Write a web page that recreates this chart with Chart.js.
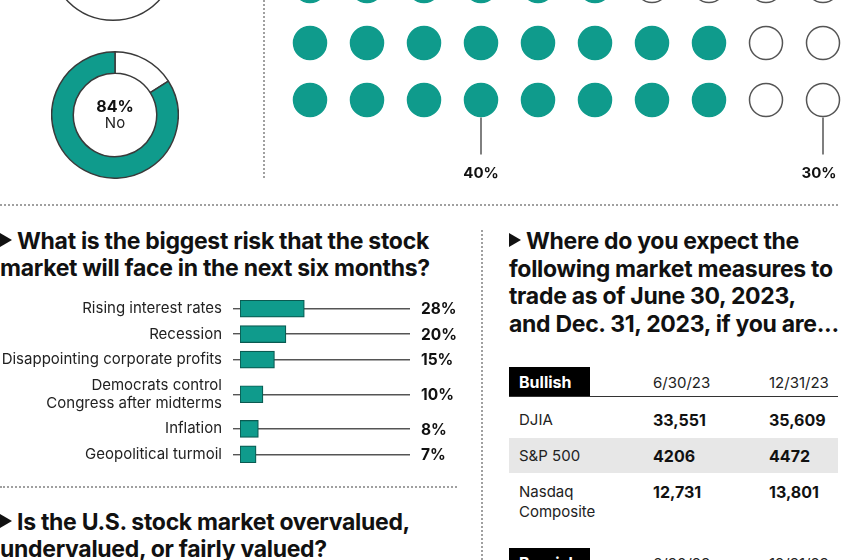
<!DOCTYPE html>
<html>
<head>
<meta charset="utf-8">
<script src="https://cdn.jsdelivr.net/npm/chart.js@4.4.0/dist/chart.umd.min.js"></script>
<style>
  html, body { margin: 0; padding: 0; }
  body { width: 850px; height: 560px; overflow: hidden; position: relative; background: #fff;
         font-family: Inter, "Noto Sans", sans-serif; color: #111; }
  .abs { position: absolute; }
  .vdots { border-left: 2px dotted #a0a0a0; width: 0; }
  .hdots { border-top: 2px dotted #a0a0a0; height: 0; }
  .title { font-weight: 700; font-size: 23px; line-height: 27px; letter-spacing: -0.3px; white-space: nowrap; }
  .tri { display: inline-block; width: 0; height: 0; border-top: 7px solid transparent; border-bottom: 7px solid transparent;
         border-left: 12px solid #111; margin-right: 5px; vertical-align: 2px; }
  .cell { position: absolute; white-space: nowrap; font-size: 15px; line-height: 20px; color: #222; }
  .num { font-weight: 700; font-size: 16px; color: #111; }
  .box { position: absolute; background: #000; color: #fff; font-weight: 700; font-size: 16px;
         line-height: 30px; height: 30px; width: 81px; box-sizing: border-box; padding-left: 10px; }
  canvas { position: absolute; }
</style>
</head>
<body>

<!-- top area -->
<canvas id="ringTop" width="128" height="128" style="left:49px;top:-107px"></canvas>
<canvas id="donut" width="128" height="128" style="left:51px;top:51px"></canvas>
<div class="abs" style="left:65px;top:96px;width:100px;text-align:center;font-weight:700;font-size:16px;line-height:20px;">84%</div>
<div class="abs" style="left:65px;top:113px;width:100px;text-align:center;font-size:15px;line-height:20px;color:#222;">No</div>
<div class="abs vdots" style="left:263px;top:0;height:178px"></div>
<canvas id="dots" width="580" height="240" style="left:270px;top:-50px"></canvas>

<div class="abs hdots" style="left:0;top:204px;width:838px"></div>

<!-- risk bars -->
<div class="abs title" style="left:0;top:228px">
  <span class="tri"></span>What is the biggest risk that the stock<br>market will face in the next six months?
</div>
<canvas id="risk" width="470" height="171" style="left:0;top:296px"></canvas>

<div class="abs hdots" style="left:0;top:486px;width:457px"></div>
<div class="abs title" style="left:0;top:509px">
  <span class="tri"></span>Is the U.S. stock market overvalued,<br>undervalued, or fairly valued?
</div>

<!-- right: table -->
<div class="abs vdots" style="left:481px;top:230px;height:330px"></div>
<div class="abs title" style="left:509px;top:228px;line-height:27.7px">
  <span class="tri"></span>Where do you expect the<br>following market measures to<br>trade as of June 30, 2023,<br>and Dec. 31, 2023, if you are...
</div>

<div class="box" style="left:509px;top:367px">Bullish</div>
<div class="cell" style="left:653px;top:373px">6/30/23</div>
<div class="cell" style="left:769px;top:373px">12/31/23</div>
<div class="abs" style="left:509px;top:396px;width:329px;height:0;border-top:1.5px solid #333"></div>

<div class="cell" style="left:519px;top:410px">DJIA</div>
<div class="cell num" style="left:653px;top:410px">33,551</div>
<div class="cell num" style="left:769px;top:410px">35,609</div>

<div class="abs" style="left:509px;top:438px;width:329px;height:35px;background:#e7e7e7"></div>
<div class="cell" style="left:519px;top:446px">S&amp;P 500</div>
<div class="cell num" style="left:653px;top:446px">4206</div>
<div class="cell num" style="left:769px;top:446px">4472</div>

<div class="cell" style="left:519px;top:482px">Nasdaq<br>Composite</div>
<div class="cell num" style="left:653px;top:482px">12,731</div>
<div class="cell num" style="left:769px;top:482px">13,801</div>

<div class="box" style="left:509px;top:548px">Bearish</div>
<div class="cell" style="left:653px;top:554px">6/30/23</div>
<div class="cell" style="left:769px;top:554px">12/31/23</div>

<script>
const TEAL = '#0f9b8c';
const EDGE = '#3a3a3a';

// donut: share of respondents
const donutLabels = ['Yes', 'No'];
const donutValues = [16, 84];
const donutColors = ['#ffffff', TEAL];

// ring above it, only its lower edge is in frame
const ringTopValues = [100];

// dot grid: filled dots per row, out of 10
const dotRowFilled = [6, 8, 8];
const dotsPerRow = 10;
const calloutCols = [4, 10];
const calloutLabels = ['40%', '30%'];

// biggest risk
const riskLabels = ['Rising interest rates', 'Recession', 'Disappointing corporate profits',
                    ['Democrats control', 'Congress after midterms'], 'Inflation', 'Geopolitical turmoil'];
const riskValues = [28, 20, 15, 10, 8, 7];

Chart.defaults.font.family = 'Inter, "Noto Sans", sans-serif';

const baseOpts = {
  responsive: false, animation: false, events: [],
  plugins: { legend: { display: false }, tooltip: { enabled: false } }
};

new Chart(document.getElementById('ringTop'), {
  type: 'doughnut',
  data: { datasets: [{ data: ringTopValues, backgroundColor: ['#ffffff'], borderColor: EDGE, borderWidth: 1.5 }] },
  options: { ...baseOpts, cutout: '66%' }
});

new Chart(document.getElementById('donut'), {
  type: 'doughnut',
  data: { labels: donutLabels, datasets: [{ data: donutValues, backgroundColor: donutColors, borderColor: EDGE, borderWidth: 1.5 }] },
  options: { ...baseOpts, cutout: '66%' }
});

// dot grid
const dotPoints = [], dotFill = [], dotLine = [];
dotRowFilled.forEach((n, r) => {
  for (let c = 1; c <= dotsPerRow; c++) {
    dotPoints.push({ x: c, y: r + 1 });
    dotFill.push(c <= n ? TEAL : '#ffffff');
    dotLine.push(c <= n ? TEAL : '#555');
  }
});
const DOT_R = 16.5;

const calloutPlugin = {
  id: 'callouts',
  afterDatasetsDraw(chart) {
    const { ctx, scales: { x, y } } = chart;
    const lastRow = dotRowFilled.length;
    ctx.save();
    calloutCols.forEach((col, i) => {
      const px = x.getPixelForValue(col);
      const top = y.getPixelForValue(lastRow) + DOT_R + 1;
      ctx.strokeStyle = '#555';
      ctx.lineWidth = 1.5;
      ctx.beginPath();
      ctx.moveTo(px, top);
      ctx.lineTo(px, top + 37);
      ctx.stroke();
      ctx.fillStyle = '#111';
      ctx.font = '700 15px Inter, "Noto Sans", sans-serif';
      ctx.textAlign = 'center';
      ctx.textBaseline = 'middle';
      ctx.fillText(calloutLabels[i], px - (i === calloutCols.length - 1 ? 4 : 0), top + 56);
    });
    ctx.restore();
  }
};

new Chart(document.getElementById('dots'), {
  type: 'scatter',
  data: { datasets: [{ data: dotPoints, pointRadius: DOT_R, pointBackgroundColor: dotFill,
                       pointBorderColor: dotLine, pointBorderWidth: 1.5, clip: false }] },
  options: {
    ...baseOpts,
    layout: { padding: 0, autoPadding: false },
    scales: {
      x: { type: 'linear', display: false, min: 0.29825, max: 10.47368 },
      y: { type: 'linear', display: false, reverse: true, min: 0.36842, max: 4.57895 }
    }
  },
  plugins: [calloutPlugin]
});

// risk bars: rows with two-line labels get more room
let acc = 0;
const rowCenters = riskLabels.map(l => {
  const lines = Array.isArray(l) ? l.length : 1;
  const h = 25.3 + (lines - 1) * 18.4;
  const c = acc + h / 2;
  acc += h;
  return c;
});
const rowTotal = acc;

const valuePlugin = {
  id: 'values',
  afterDatasetsDraw(chart) {
    const { ctx, chartArea, scales: { y } } = chart;
    ctx.save();
    ctx.fillStyle = '#111';
    ctx.font = '700 15.5px Inter, "Noto Sans", sans-serif';
    ctx.textAlign = 'left';
    ctx.textBaseline = 'middle';
    riskValues.forEach((v, i) => ctx.fillText(v + '%', chartArea.right + 11, y.getPixelForValue(rowCenters[i]) + 1));
    ctx.restore();
  }
};

new Chart(document.getElementById('risk'), {
  type: 'bar',
  data: { datasets: [{ data: riskValues.map((v, i) => ({ x: v, y: rowCenters[i] })),
                       backgroundColor: TEAL, borderColor: '#0a5a51', borderWidth: 1.2,
                       borderSkipped: false, barThickness: 17 }] },
  options: {
    ...baseOpts,
    indexAxis: 'y',
    layout: { padding: { left: 0, right: 60, top: 0, bottom: 0 }, autoPadding: false },
    scales: {
      x: { type: 'linear', display: false, min: 0, max: 74 },
      y: {
        type: 'linear', reverse: true, min: 0, max: rowTotal, offset: false,
        afterBuildTicks: s => { s.ticks = rowCenters.map(v => ({ value: v })); },
        afterFit: s => { s.width = 240; s.paddingTop = 0; s.paddingBottom = 0; },
        ticks: { autoSkip: false, padding: 11, color: '#222',
                 font: { size: 15, lineHeight: 1.22 }, callback: (v, i) => riskLabels[i] },
        grid: { color: '#555', lineWidth: 1.4, tickLength: 7, offset: false },
        border: { display: false }
      }
    }
  },
  plugins: [valuePlugin]
});
</script>
</body>
</html>
